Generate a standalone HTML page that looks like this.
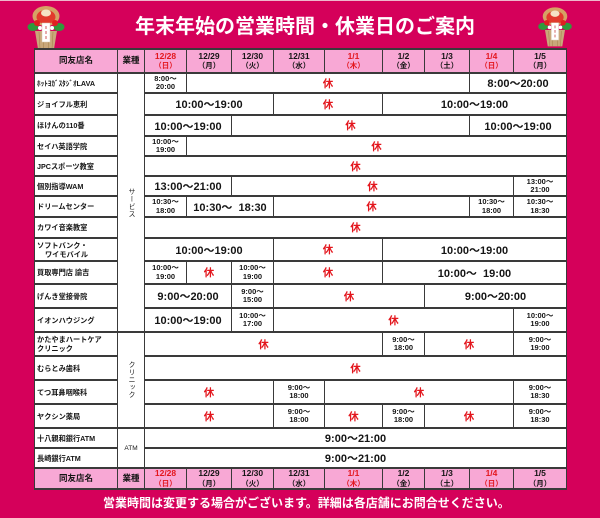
<!DOCTYPE html>
<html lang="ja">
<head>
<meta charset="utf-8">
<style>
html,body{margin:0;padding:0;}
body{width:600px;height:518px;position:relative;overflow:hidden;background:#d5005a;font-family:"Liberation Sans","Noto Sans CJK JP",sans-serif;}
.topline{position:absolute;left:0;top:0;width:600px;height:1px;background:#eeb8cc;}
.title{position:absolute;left:135px;top:14px;font-family:"Noto Sans CJK JP","Liberation Sans",sans-serif;font-weight:bold;font-size:20px;line-height:22px;color:#fff;white-space:nowrap;}
.foot{position:absolute;left:103px;top:496px;font-family:"Noto Sans CJK JP","Liberation Sans",sans-serif;font-weight:bold;font-size:12px;line-height:14px;color:#fff;white-space:nowrap;}
.c{position:absolute;box-sizing:border-box;border-style:solid;border-color:#3a3a3a;border-width:2px 1px;background:#fff;display:flex;align-items:center;justify-content:center;text-align:center;font-weight:bold;color:#151515;white-space:nowrap;}
.c > div{display:block;}
.b{font-size:11px;}
.s{font-size:7.5px;line-height:8.5px;}
.k{font-size:10.5px;color:#e3161d;}
.n{justify-content:flex-start;padding-left:2px;font-size:7.2px;line-height:9px;text-align:left;}
.h{background:#f8a8d5;font-size:8.5px;line-height:9.5px;}
.h .w{font-size:7.5px;}
.r{color:#e3161d;}
.v{writing-mode:vertical-rl;font-size:7px;line-height:8px;letter-spacing:0.5px;font-weight:normal;color:#222;}
.orn{position:absolute;}
</style>
</head>
<body>
<div class="topline"></div>

<svg class="orn" style="left:24px;top:2px" width="44" height="48" viewBox="0 0 44 48">
 <polygon points="11,29 33,29 30,47 14,47" fill="#c9a77a"/>
 <g stroke="#a8864f" stroke-width="0.6"><line x1="15" y1="30" x2="16" y2="47"/><line x1="19" y1="30" x2="19.5" y2="47"/><line x1="25" y1="30" x2="24.5" y2="47"/><line x1="29" y1="30" x2="28" y2="47"/></g>
 <ellipse cx="22" cy="14" rx="13.5" ry="10" fill="#d6a264"/>
 <ellipse cx="22" cy="15" rx="9.5" ry="7" fill="#e23a2c"/>
 <ellipse cx="22" cy="11" rx="5" ry="3.5" fill="#f5e3c4"/>
 <ellipse cx="9" cy="25" rx="5.5" ry="4" fill="#2f9a3c"/>
 <ellipse cx="35" cy="25" rx="5.5" ry="4" fill="#2f9a3c"/>
 <circle cx="13" cy="21" r="3" fill="#e02020"/>
 <circle cx="31" cy="21" r="3" fill="#e02020"/>
 <circle cx="16" cy="26" r="2" fill="#fff"/>
 <circle cx="28" cy="26" r="2" fill="#fff"/>
 <rect x="18" y="21" width="8" height="19" fill="#fff" stroke="#d8c8b0" stroke-width="0.5"/>
 <g stroke="#c03030" stroke-width="0.8"><line x1="22" y1="24" x2="22" y2="27"/><line x1="22" y1="29" x2="22" y2="32"/><line x1="22" y1="34" x2="22" y2="37"/></g>
</svg>
<svg class="orn" style="left:535px;top:3px" width="40" height="45" viewBox="0 0 44 48">
 <polygon points="11,29 33,29 30,47 14,47" fill="#c9a77a"/>
 <g stroke="#a8864f" stroke-width="0.6"><line x1="15" y1="30" x2="16" y2="47"/><line x1="19" y1="30" x2="19.5" y2="47"/><line x1="25" y1="30" x2="24.5" y2="47"/><line x1="29" y1="30" x2="28" y2="47"/></g>
 <ellipse cx="22" cy="14" rx="13.5" ry="10" fill="#d6a264"/>
 <ellipse cx="22" cy="15" rx="9.5" ry="7" fill="#e23a2c"/>
 <ellipse cx="22" cy="11" rx="5" ry="3.5" fill="#f5e3c4"/>
 <ellipse cx="9" cy="25" rx="5.5" ry="4" fill="#2f9a3c"/>
 <ellipse cx="35" cy="25" rx="5.5" ry="4" fill="#2f9a3c"/>
 <circle cx="13" cy="21" r="3" fill="#e02020"/>
 <circle cx="31" cy="21" r="3" fill="#e02020"/>
 <circle cx="16" cy="26" r="2" fill="#fff"/>
 <circle cx="28" cy="26" r="2" fill="#fff"/>
 <rect x="18" y="21" width="8" height="19" fill="#fff" stroke="#d8c8b0" stroke-width="0.5"/>
 <g stroke="#c03030" stroke-width="0.8"><line x1="22" y1="24" x2="22" y2="27"/><line x1="22" y1="29" x2="22" y2="32"/><line x1="22" y1="34" x2="22" y2="37"/></g>
</svg>

<div class="title">年末年始の営業時間・休業日のご案内</div>

<!-- header -->
<div class="c h" style="left:34px;top:48px;width:84px;height:26px;"><div>同友店名</div></div>
<div class="c h" style="left:117px;top:48px;width:28px;height:26px;"><div>業種</div></div>
<div class="c h r" style="left:144px;top:48px;width:43px;height:26px;"><div>12/28<br><span class="w">（日）</span></div></div>
<div class="c h" style="left:186px;top:48px;width:46px;height:26px;"><div>12/29<br><span class="w">（月）</span></div></div>
<div class="c h" style="left:231px;top:48px;width:43px;height:26px;"><div>12/30<br><span class="w">（火）</span></div></div>
<div class="c h" style="left:273px;top:48px;width:52px;height:26px;"><div>12/31<br><span class="w">（水）</span></div></div>
<div class="c h r" style="left:324px;top:48px;width:59px;height:26px;"><div>1/1<br><span class="w">（木）</span></div></div>
<div class="c h" style="left:382px;top:48px;width:43px;height:26px;"><div>1/2<br><span class="w">（金）</span></div></div>
<div class="c h" style="left:424px;top:48px;width:46px;height:26px;"><div>1/3<br><span class="w">（土）</span></div></div>
<div class="c h r" style="left:469px;top:48px;width:45px;height:26px;"><div>1/4<br><span class="w">（日）</span></div></div>
<div class="c h" style="left:513px;top:48px;width:54px;height:26px;"><div>1/5<br><span class="w">（月）</span></div></div>

<!-- names -->
<div class="c n" style="left:34px;top:72px;width:84px;height:22px;"><div>ﾎｯﾄﾖｶﾞｽﾀｼﾞｵLAVA</div></div>
<div class="c n" style="left:34px;top:92px;width:84px;height:24px;"><div>ジョイフル恵利</div></div>
<div class="c n" style="left:34px;top:114px;width:84px;height:23px;"><div>ほけんの110番</div></div>
<div class="c n" style="left:34px;top:135px;width:84px;height:22px;"><div>セイハ英語学院</div></div>
<div class="c n" style="left:34px;top:155px;width:84px;height:22px;"><div>JPCスポーツ教室</div></div>
<div class="c n" style="left:34px;top:175px;width:84px;height:22px;"><div>個別指導WAM</div></div>
<div class="c n" style="left:34px;top:195px;width:84px;height:23px;"><div>ドリームセンター</div></div>
<div class="c n" style="left:34px;top:216px;width:84px;height:23px;"><div>カワイ音楽教室</div></div>
<div class="c n" style="left:34px;top:237px;width:84px;height:25px;"><div>ソフトバンク・<br>&nbsp;&nbsp;&nbsp;&nbsp;ワイモバイル</div></div>
<div class="c n" style="left:34px;top:260px;width:84px;height:25px;"><div>買取専門店 諭吉</div></div>
<div class="c n" style="left:34px;top:283px;width:84px;height:26px;"><div>げんき堂接骨院</div></div>
<div class="c n" style="left:34px;top:307px;width:84px;height:26px;"><div>イオンハウジング</div></div>
<div class="c n" style="left:34px;top:331px;width:84px;height:26px;"><div>かたやまハートケア<br>クリニック</div></div>
<div class="c n" style="left:34px;top:355px;width:84px;height:26px;"><div>むらとみ歯科</div></div>
<div class="c n" style="left:34px;top:379px;width:84px;height:26px;"><div>てつ耳鼻咽喉科</div></div>
<div class="c n" style="left:34px;top:403px;width:84px;height:26px;"><div>ヤクシン薬局</div></div>
<div class="c n" style="left:34px;top:427px;width:84px;height:22px;"><div>十八親和銀行ATM</div></div>
<div class="c n" style="left:34px;top:447px;width:84px;height:22px;"><div>長崎銀行ATM</div></div>

<!-- categories -->
<div class="c" style="left:117px;top:72px;width:28px;height:261px;"><span class="v">サービス</span></div>
<div class="c" style="left:117px;top:331px;width:28px;height:98px;"><span class="v">クリニック</span></div>
<div class="c" style="left:117px;top:427px;width:28px;height:42px;font-weight:normal;font-size:6.5px;"><div>ATM</div></div>

<!-- r1 -->
<div class="c s" style="left:144px;top:72px;width:43px;height:22px;"><div>8:00〜<br>20:00</div></div>
<div class="c k" style="left:186px;top:72px;width:284px;height:22px;"><div>休</div></div>
<div class="c b" style="left:469px;top:72px;width:98px;height:22px;"><div>8:00〜20:00</div></div>
<!-- r2 -->
<div class="c b" style="left:144px;top:92px;width:130px;height:24px;"><div>10:00〜19:00</div></div>
<div class="c k" style="left:273px;top:92px;width:110px;height:24px;"><div>休</div></div>
<div class="c b" style="left:382px;top:92px;width:185px;height:24px;"><div>10:00〜19:00</div></div>
<!-- r3 -->
<div class="c b" style="left:144px;top:114px;width:88px;height:23px;"><div>10:00〜19:00</div></div>
<div class="c k" style="left:231px;top:114px;width:239px;height:23px;"><div>休</div></div>
<div class="c b" style="left:469px;top:114px;width:98px;height:23px;"><div>10:00〜19:00</div></div>
<!-- r4 -->
<div class="c s" style="left:144px;top:135px;width:43px;height:22px;"><div>10:00〜<br>19:00</div></div>
<div class="c k" style="left:186px;top:135px;width:381px;height:22px;"><div>休</div></div>
<!-- r5 -->
<div class="c k" style="left:144px;top:155px;width:423px;height:22px;"><div>休</div></div>
<!-- r6 -->
<div class="c b" style="left:144px;top:175px;width:88px;height:22px;"><div>13:00〜21:00</div></div>
<div class="c k" style="left:231px;top:175px;width:283px;height:22px;"><div>休</div></div>
<div class="c s" style="left:513px;top:175px;width:54px;height:22px;"><div>13:00〜<br>21:00</div></div>
<!-- r7 -->
<div class="c s" style="left:144px;top:195px;width:43px;height:23px;"><div>10:30〜<br>18:00</div></div>
<div class="c b" style="left:186px;top:195px;width:88px;height:23px;"><div>10:30〜&nbsp;&nbsp;18:30</div></div>
<div class="c k" style="left:273px;top:195px;width:197px;height:23px;"><div>休</div></div>
<div class="c s" style="left:469px;top:195px;width:45px;height:23px;"><div>10:30〜<br>18:00</div></div>
<div class="c s" style="left:513px;top:195px;width:54px;height:23px;"><div>10:30〜<br>18:30</div></div>
<!-- r8 -->
<div class="c k" style="left:144px;top:216px;width:423px;height:23px;"><div>休</div></div>
<!-- r9 -->
<div class="c b" style="left:144px;top:237px;width:130px;height:25px;"><div>10:00〜19:00</div></div>
<div class="c k" style="left:273px;top:237px;width:110px;height:25px;"><div>休</div></div>
<div class="c b" style="left:382px;top:237px;width:185px;height:25px;"><div>10:00〜19:00</div></div>
<!-- r10 -->
<div class="c s" style="left:144px;top:260px;width:43px;height:25px;"><div>10:00〜<br>19:00</div></div>
<div class="c k" style="left:186px;top:260px;width:46px;height:25px;"><div>休</div></div>
<div class="c s" style="left:231px;top:260px;width:43px;height:25px;"><div>10:00〜<br>19:00</div></div>
<div class="c k" style="left:273px;top:260px;width:110px;height:25px;"><div>休</div></div>
<div class="c b" style="left:382px;top:260px;width:185px;height:25px;"><div>10:00〜&nbsp;&nbsp;19:00</div></div>
<!-- r11 -->
<div class="c b" style="left:144px;top:283px;width:88px;height:26px;"><div>9:00〜20:00</div></div>
<div class="c s" style="left:231px;top:283px;width:43px;height:26px;"><div>9:00〜<br>15:00</div></div>
<div class="c k" style="left:273px;top:283px;width:152px;height:26px;"><div>休</div></div>
<div class="c b" style="left:424px;top:283px;width:143px;height:26px;"><div>9:00〜20:00</div></div>
<!-- r12 -->
<div class="c b" style="left:144px;top:307px;width:88px;height:26px;"><div>10:00〜19:00</div></div>
<div class="c s" style="left:231px;top:307px;width:43px;height:26px;"><div>10:00〜<br>17:00</div></div>
<div class="c k" style="left:273px;top:307px;width:241px;height:26px;"><div>休</div></div>
<div class="c s" style="left:513px;top:307px;width:54px;height:26px;"><div>10:00〜<br>19:00</div></div>
<!-- r13 -->
<div class="c k" style="left:144px;top:331px;width:239px;height:26px;"><div>休</div></div>
<div class="c s" style="left:382px;top:331px;width:43px;height:26px;"><div>9:00〜<br>18:00</div></div>
<div class="c k" style="left:424px;top:331px;width:90px;height:26px;"><div>休</div></div>
<div class="c s" style="left:513px;top:331px;width:54px;height:26px;"><div>9:00〜<br>19:00</div></div>
<!-- r14 -->
<div class="c k" style="left:144px;top:355px;width:423px;height:26px;"><div>休</div></div>
<!-- r15 -->
<div class="c k" style="left:144px;top:379px;width:130px;height:26px;"><div>休</div></div>
<div class="c s" style="left:273px;top:379px;width:52px;height:26px;"><div>9:00〜<br>18:00</div></div>
<div class="c k" style="left:324px;top:379px;width:190px;height:26px;"><div>休</div></div>
<div class="c s" style="left:513px;top:379px;width:54px;height:26px;"><div>9:00〜<br>18:30</div></div>
<!-- r16 -->
<div class="c k" style="left:144px;top:403px;width:130px;height:26px;"><div>休</div></div>
<div class="c s" style="left:273px;top:403px;width:52px;height:26px;"><div>9:00〜<br>18:00</div></div>
<div class="c k" style="left:324px;top:403px;width:59px;height:26px;"><div>休</div></div>
<div class="c s" style="left:382px;top:403px;width:43px;height:26px;"><div>9:00〜<br>18:00</div></div>
<div class="c k" style="left:424px;top:403px;width:90px;height:26px;"><div>休</div></div>
<div class="c s" style="left:513px;top:403px;width:54px;height:26px;"><div>9:00〜<br>18:30</div></div>
<!-- r17, r18 -->
<div class="c b" style="left:144px;top:427px;width:423px;height:22px;"><div>9:00〜21:00</div></div>
<div class="c b" style="left:144px;top:447px;width:423px;height:22px;"><div>9:00〜21:00</div></div>

<!-- footer header -->
<div class="c h" style="left:34px;top:467px;width:84px;height:23px;"><div>同友店名</div></div>
<div class="c h" style="left:117px;top:467px;width:28px;height:23px;"><div>業種</div></div>
<div class="c h r" style="left:144px;top:467px;width:43px;height:23px;"><div>12/28<br><span class="w">（日）</span></div></div>
<div class="c h" style="left:186px;top:467px;width:46px;height:23px;"><div>12/29<br><span class="w">（月）</span></div></div>
<div class="c h" style="left:231px;top:467px;width:43px;height:23px;"><div>12/30<br><span class="w">（火）</span></div></div>
<div class="c h" style="left:273px;top:467px;width:52px;height:23px;"><div>12/31<br><span class="w">（水）</span></div></div>
<div class="c h r" style="left:324px;top:467px;width:59px;height:23px;"><div>1/1<br><span class="w">（木）</span></div></div>
<div class="c h" style="left:382px;top:467px;width:43px;height:23px;"><div>1/2<br><span class="w">（金）</span></div></div>
<div class="c h" style="left:424px;top:467px;width:46px;height:23px;"><div>1/3<br><span class="w">（土）</span></div></div>
<div class="c h r" style="left:469px;top:467px;width:45px;height:23px;"><div>1/4<br><span class="w">（日）</span></div></div>
<div class="c h" style="left:513px;top:467px;width:54px;height:23px;"><div>1/5<br><span class="w">（月）</span></div></div>

<div class="foot">営業時間は変更する場合がございます。詳細は各店舗にお問合せください。</div>
</body>
</html>
